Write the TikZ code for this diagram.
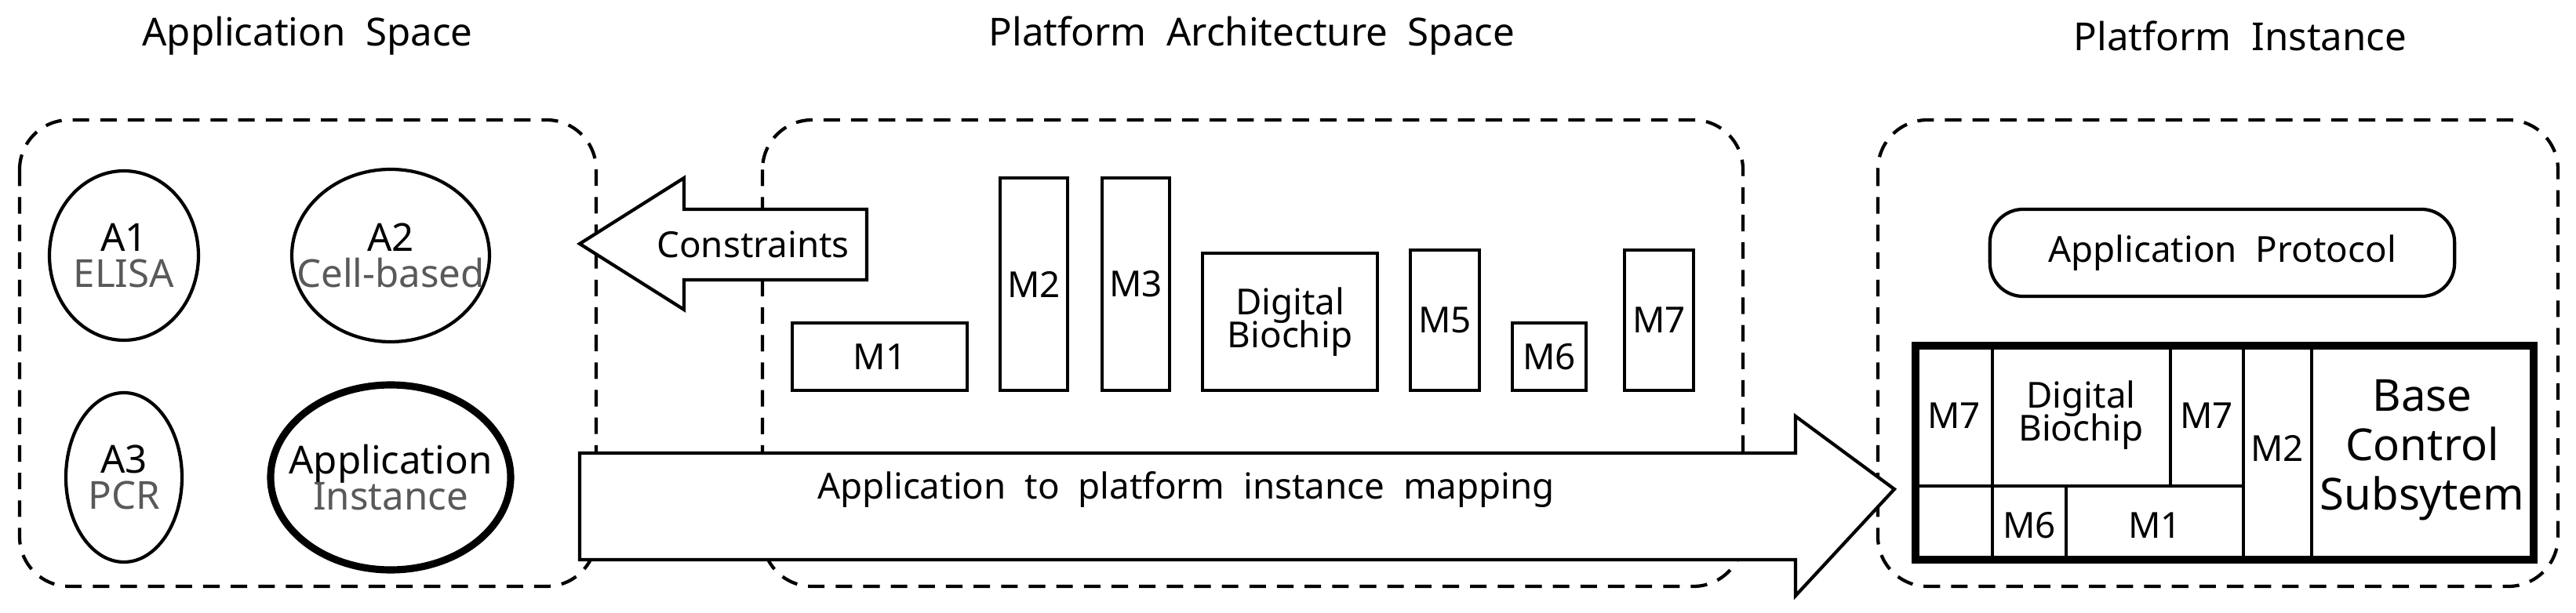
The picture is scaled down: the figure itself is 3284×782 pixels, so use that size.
\documentclass[tikz,border=0pt]{standalone}
\usepackage{fontspec}
\setmainfont{Noto Sans}
\begin{document}
\begin{tikzpicture}[x=0.01cm,y=-0.01cm,
  lbl/.style={font=\fontsize{13}{15}\selectfont, align=center},
  big/.style={font=\fontsize{14}{16}\selectfont, align=center},
  ttl/.style={font=\fontsize{14}{16}\selectfont},
  grp/.style={draw, line width=1.2pt, dash pattern=on 6pt off 4pt, rounded corners=18pt},
  mod/.style={draw, line width=1.2pt, lbl, inner sep=0pt}]
\useasboundingbox (0,0) rectangle (3284,782);
\node[ttl] (t1) at (392,46) {Application\ \ Space};
\node[ttl] (t2) at (1596,46) {Platform\ \ Architecture\ \ Space};
\node[ttl] (t3) at (2856,46) {Platform\ \ Instance};
\draw[grp] (25,153) rectangle (760,748);
\draw[grp] (972,153) rectangle (2222,748);
\draw[grp] (2394,153) rectangle (3261,748);
% ellipses
\draw[line width=1.2pt] (158,326) ellipse [x radius=95, y radius=108];
\node[big] (a1) at (158,326) {A1\\[-3pt]{\color{black!65}ELISA}};
\draw[line width=1.2pt] (498,326) ellipse [x radius=126, y radius=110];
\node[big] (a2) at (498,326) {A2\\[-3pt]{\color{black!65}Cell-based}};
\draw[line width=1.2pt] (158,609) ellipse [x radius=74, y radius=108];
\node[big] (a3) at (158,609) {A3\\[-3pt]{\color{black!65}PCR}};
\draw[line width=2.6pt] (498,609) ellipse [x radius=153, y radius=118];
\node[big] (ai) at (498,609) {Application\\[-3pt]{\color{black!65}Instance}};
% constraints arrow
\draw[line width=1.2pt, fill=white] (739,311) -- (872,227) -- (872,267) -- (1105,267) -- (1105,357) -- (872,357) -- (872,395) -- cycle;
\node[lbl] (cons) at (960,312) {Constraints};
% modules
\node[mod, minimum width=2.23cm, minimum height=0.86cm] (m1) at (1121.5,455) {M1};
\node[mod, minimum width=0.86cm, minimum height=2.71cm] (m2) at (1318,362.5) {M2};
\node[mod, minimum width=0.86cm, minimum height=2.71cm] (m3) at (1448,362.5) {M3};
\node[mod, minimum width=2.23cm, minimum height=1.75cm] (db) at (1644.5,410.5) {Digital\\[-3pt]Biochip};
\node[mod, minimum width=0.88cm, minimum height=1.79cm] (m5) at (1842,408.5) {M5};
\node[mod, minimum width=0.94cm, minimum height=0.86cm] (m6) at (1975,455) {M6};
\node[mod, minimum width=0.88cm, minimum height=1.79cm] (m7) at (2115,408.5) {M7};
% mapping arrow
\draw[line width=1.2pt, fill=white] (739,578) -- (2289,578) -- (2289,531) -- (2415,624) -- (2289,760) -- (2289,714) -- (739,714) -- cycle;
\node[lbl] (map) at (1512,624) {Application\ \ to\ \ platform\ \ instance\ \ mapping};
% platform instance
\node[mod, rounded corners=12pt, minimum width=5.92cm, minimum height=1.11cm] (ap) at (2833,322.5) {Application\ \ Protocol};
\draw[line width=1.2pt] (2540,441) -- (2540,714) (2767,441) -- (2767,620) (2860,441) -- (2860,714)
  (2947,441) -- (2947,714) (2442,620) -- (2860,620) (2634,620) -- (2634,714);
\draw[line width=3pt] (2442,441) rectangle (3230,714);
\node[lbl] (p7a) at (2491,530) {M7};
\node[lbl] (pdb) at (2653,530) {Digital\\[-3pt]Biochip};
\node[lbl] (p7b) at (2813,530) {M7};
\node[lbl] (p6) at (2587,670) {M6};
\node[lbl] (p1) at (2747,670) {M1};
\node[lbl] (p2) at (2903,572) {M2};
\node[align=center, font=\fontsize{16}{18}\selectfont] (bcs) at (3088,574) {Base\\Control\\Subsytem};
\end{tikzpicture}
\end{document}
